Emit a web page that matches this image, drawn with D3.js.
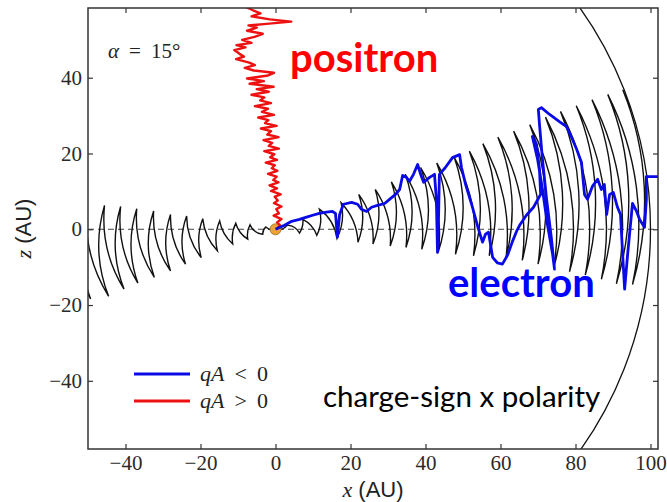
<!DOCTYPE html>
<html>
<head>
<meta charset="utf-8">
<script src="https://cdnjs.cloudflare.com/ajax/libs/d3/7.8.5/d3.min.js"></script>
<style>
  body { margin: 0; background: #fff; }
  svg { display: block; }
  .tick text { font-family: "Liberation Serif", serif; font-size: 21px; fill: #2a2a2a; }
  .tick line { stroke: #333; stroke-width: 1.2; }
</style>
</head>
<body>
<div id="chart"></div>
<script>
// axis ticks (AU)
let xTicks = [-40, -20, 0, 20, 40, 60, 80, 100];
let zTicks = [-40, -20, 0, 20, 40];

// wavy current sheet: fold tips, left edge -> sun -> right
let sheetX = [-54.5, -49.3, -50.2, -44.5, -45.6, -40.4, -41.3, -36.7, -37.0, -32.3, -32.5, -28.0, -28.0, -24.0,
  -23.7, -19.8, -19.4, -15.5, -14.9, -11.4, -10.6, -7.4, -6.8, -3.4, -2.6, 0,
  3.2, 6.4, 7.3, 11.0, 11.7, 16.4, 17.5, 22.0, 22.2, 26.0, 26.6, 30.6, 30.9, 34.8, 34.6, 39.0, 38.7, 43.4,
  43.0, 48.0, 47.7, 52.8, 51.7, 57.0, 55.3, 61.5, 59.3, 65.8, 63.5, 70.0, 67.8, 74.2, 72.0, 78.4, 76.0, 82.6,
  80.2, 86.9, 84.4, 90.9, 88.6, 95.2, 92.6, 99.4, 96.8, 103.6];
let sheetZ = [7.3, -18.4, 7.0, -17.7, 6.3, -15.8, 6.0, -14.2, 5.4, -12.7, 4.8, -11.0, 3.9, -9.2,
  3.5, -7.5, 2.8, -5.7, 2.2, -3.9, 1.6, -2.6, 1.2, -1.3, 0.6, 0,
  1.1, -1.0, 2.6, -1.6, 5.3, -2.4, 7.0, -3.4, 9.2, -3.9, 10.5, -4.4, 12.5, -4.8, 14.5, -5.3, 16.3, -6.0,
  17.5, -6.6, 18.9, -7.0, 20.6, -7.0, 22.6, -7.3, 24.3, -8.2, 25.9, -9.2, 27.6, -10.1, 29.6, -11.2, 31.1, -12.1,
  32.6, -13.2, 34.2, -14.4, 35.6, -14.6, 36.8, -15.2, 38.2, -16.0];

let shockRadius = 100; // AU

// qA < 0 (electron)
let electronX = [0, 2.4, 4.3, 6.4, 8.3, 9.9, 11.7, 13.6, 15.2, 16.0, 16.5, 17.1, 18.1, 20.3, 21.9, 22.9, 24.3,
  25.6, 27.2, 29.1, 30.4, 32.0, 33.1, 33.9, 34.9, 35.7, 36.8, 37.9, 38.7, 39.5, 41.1, 42.4, 42.9, 43.2, 43.5,
  43.7, 45.3, 47.2, 49.1, 49.6, 50.7, 52.3, 53.9, 55.2, 56.0, 56.8, 57.9, 59.2, 60.5, 61.9, 63.2, 64.3, 65.1,
  66.9, 68.8, 70.7, 70.4, 69.6, 68.5, 69.9, 71.2, 72.5, 73.9, 74.4, 73.6, 72.3, 71.2, 70.4, 70.1, 70.9, 73.1,
  75.7, 77.6, 79.2, 80.3, 81.6, 82.4, 83.2, 84.5, 85.9, 86.9, 87.7, 88.3, 89.1, 90.1, 91.2, 92.0, 92.5, 93.1,
  93.9, 95.2, 96.3, 97.1, 98.4, 98.9, 98.9, 102.4];
let electronZ = [0, 1.05, 2.1, 2.6, 3.2, 3.7, 4.2, 4.5, 4.7, 4.2, -2.1, 3.9, 6.6, 7.1, 6.6, 5.3, 4.7,
  5.8, 6.3, 6.8, 7.9, 9.2, 10.5, 14.2, 13.7, 12.6, 14.5, 17.1, 14.5, 12.4, 13.7, 14.5, 7.9, -6.1, 3.9,
  14.5, 16.3, 18.9, 19.7, 16.3, 11.8, 6.6, 0.8, -3.4, -1.3, -0.8, -7.4, -8.9, -9.2, -6.8, -3.2, -0.5, 1.05,
  3.7, 5.8, 9.2, 15.8, 22.4, 24.5, 18.4, 10.5, 1.3, -6.6, -10.5, -2.6, 7.9, 18.4, 27.6, 31.6, 32.1, 30.3,
  28.4, 27.1, 23.7, 21.1, 17.6, 9.2, 7.9, 11.3, 13.2, 10.5, 11.8, 3.9, 9.2, 9.7, 5.8, 3.9, -5.3, -15.8,
  -6.6, 6.8, 4.7, 2.6, 0.5, 7.9, 13.9, 13.9];

// qA > 0 (positron)
let positronX = [0.3, 1.2, 0.4, 1.6, -0.5, 0.9, 0.2, 1.6, -0.4, 0.6, -0.2, 1.4, -1.2, 0.4, -1.6, 0.8,
  -0.6, 0.3, -2.0, 0.5, -1.0, -0.2, -2.6, 0.4, -1.4, -0.3, -3.0, 0.9, -1.8, -0.9, -3.2, 0.8, -2.2, -1.2,
  -3.9, 0.3, -2.8, -1.9, -4.6, -0.4, -3.6, -2.0, -5.5, -1.2, -4.1, -3.0, -6.4, -1.8, -5.0, -0.5, -6.9,
  -3.1, -7.6, -2.0, -0.4, -5.8, -8.2, -5.5, -7.0, -10.5, -8.4, -9.6, -11.0, -8.0, -10.4, -6.4, -8.9, -5.6,
  -3.4, -7.6, -5.0, -7.2, -2.4, 4.2, -1.5, -6.4, -4.0, -6.0, -7.8, -8.8, -9.4];
let positronZ = [0, 1.1, 1.8, 2.7, 3.6, 4.2, 5.3, 6.0, 6.9, 7.6, 8.6, 9.2, 10.1, 10.8, 11.6, 12.4,
  13.0, 13.9, 14.6, 15.4, 16.1, 16.9, 17.6, 18.3, 19.0, 19.8, 20.6, 21.3, 22.0, 22.8, 23.5, 24.3, 25.0, 25.9,
  26.6, 27.3, 28.0, 28.8, 29.5, 30.2, 31.0, 31.8, 32.5, 33.3, 34.0, 34.8, 35.5, 36.3, 37.0, 37.6, 38.4,
  39.1, 39.8, 40.6, 41.3, 41.9, 42.6, 43.3, 44.0, 44.9, 45.6, 46.3, 47.3, 48.0, 48.6, 49.2, 50.0, 50.8,
  51.6, 52.4, 53.2, 53.8, 54.2, 54.8, 55.4, 56.2, 57.0, 57.8, 58.6, 59.5, 61.0];

let legendLabels = [['q', 'A', '<', '0'], ['q', 'A', '>', '0']];
let legendColors = ['#0a0ae6', '#ee1111'];

let width = 667, height = 502;
let margin = {top: 8, right: 9, bottom: 53, left: 88};

let svg = d3.select('#chart').append('svg')
    .attr('width', width)
    .attr('height', height)
    .style('background', '#fff');

let x = d3.scaleLinear().domain([-50, 102]).range([margin.left, width - margin.right]);
let z = d3.scaleLinear().domain([-58, 58.4]).range([height - margin.bottom, margin.top]);
let plotW = width - margin.left - margin.right;
let plotH = height - margin.top - margin.bottom;

let defs = svg.append('defs');
defs.append('clipPath').attr('id', 'plot-clip')
  .append('rect')
    .attr('x', margin.left).attr('y', margin.top)
    .attr('width', plotW).attr('height', plotH);
defs.append('clipPath').attr('id', 'shock-clip')
  .append('ellipse')
    .attr('cx', x(0)).attr('cy', z(0))
    .attr('rx', x(shockRadius) - x(0))
    .attr('ry', z(0) - z(shockRadius));

let plot = svg.append('g').attr('clip-path', 'url(#plot-clip)');

// z = 0 line
plot.append('line')
    .attr('x1', x(-50)).attr('x2', x(102))
    .attr('y1', z(0)).attr('y2', z(0))
    .attr('stroke', '#444')
    .attr('stroke-width', 1.1)
    .attr('stroke-dasharray', '6,4');

// current sheet: each stroke between fold tips drawn as an arc bowed away from the sun
let ox = x(0), oy = z(0);
let tips = d3.zip(sheetX, sheetZ).map(d => [x(d[0]), z(d[1])]);
let sheetPath = 'M' + tips[0][0] + ',' + tips[0][1];
for (let i = 1; i < tips.length; i++) {
    let [x0, y0] = tips[i - 1];
    let [x1, y1] = tips[i];
    let r0 = Math.hypot(x0 - ox, y0 - oy);
    let r1 = Math.hypot(x1 - ox, y1 - oy);
    let chord = Math.hypot(x1 - x0, y1 - y0);
    let R = Math.max(0.8 * (r0 + r1) / 2, chord);
    let mx = (x0 + x1) / 2, my = (y0 + y1) / 2;
    let sweep = ((ox - mx) * (y0 - y1) + (oy - my) * (x1 - x0)) > 0 ? 1 : 0;
    sheetPath += 'A' + R + ',' + R + ' 0 0 ' + sweep + ' ' + x1 + ',' + y1;
}
plot.append('path')
    .attr('d', sheetPath)
    .attr('clip-path', 'url(#shock-clip)')
    .attr('fill', 'none')
    .attr('stroke', '#111')
    .attr('stroke-width', 1.4);

// termination shock
plot.append('ellipse')
    .attr('cx', ox).attr('cy', oy)
    .attr('rx', x(shockRadius) - x(0))
    .attr('ry', z(0) - z(shockRadius))
    .attr('fill', 'none')
    .attr('stroke', '#111')
    .attr('stroke-width', 1.3);

// sun
plot.append('circle')
    .attr('cx', ox).attr('cy', oy).attr('r', 5.5)
    .attr('fill', '#eba236')
    .attr('stroke', '#9a6a1a')
    .attr('stroke-width', 0.8);

let line = d3.line().x(d => x(d[0])).y(d => z(d[1]));

plot.append('path')
    .datum(d3.zip(positronX, positronZ))
    .attr('d', line)
    .attr('fill', 'none')
    .attr('stroke', legendColors[1])
    .attr('stroke-width', 2.4)
    .attr('stroke-linejoin', 'round');

plot.append('path')
    .datum(d3.zip(electronX, electronZ))
    .attr('d', line)
    .attr('fill', 'none')
    .attr('stroke', legendColors[0])
    .attr('stroke-width', 2.8)
    .attr('stroke-linejoin', 'round');

// axes, ticks inward on all four sides
let fmt = d3.format('d');
svg.append('g')
    .attr('transform', 'translate(0,' + (height - margin.bottom) + ')')
    .call(d3.axisBottom(x).tickValues(xTicks).tickFormat(fmt).tickSizeInner(-5).tickSizeOuter(0).tickPadding(6))
    .call(g => g.select('.domain').remove());
svg.append('g')
    .attr('transform', 'translate(0,' + margin.top + ')')
    .call(d3.axisTop(x).tickValues(xTicks).tickFormat('').tickSizeInner(-5).tickSizeOuter(0))
    .call(g => g.select('.domain').remove());
svg.append('g')
    .attr('transform', 'translate(' + margin.left + ',0)')
    .call(d3.axisLeft(z).tickValues(zTicks).tickFormat(fmt).tickSizeInner(-5).tickSizeOuter(0).tickPadding(6))
    .call(g => g.select('.domain').remove());
svg.append('g')
    .attr('transform', 'translate(' + (width - margin.right) + ',0)')
    .call(d3.axisRight(z).tickValues(zTicks).tickFormat('').tickSizeInner(-5).tickSizeOuter(0))
    .call(g => g.select('.domain').remove());

svg.append('rect')
    .attr('x', margin.left).attr('y', margin.top)
    .attr('width', plotW).attr('height', plotH)
    .attr('fill', 'none')
    .attr('stroke', '#333')
    .attr('stroke-width', 1.5);

// axis labels
let xl = svg.append('text')
    .attr('x', (x.range()[0] + x.range()[1]) / 2)
    .attr('y', 497)
    .attr('text-anchor', 'middle')
    .attr('fill', '#222');
xl.append('tspan').style('font-family', '"Liberation Serif", serif').style('font-style', 'italic').style('font-size', '22px').text('x');
xl.append('tspan').style('font-family', '"Liberation Sans", sans-serif').style('font-size', '22px').text(' (AU)');

let zl = svg.append('text')
    .attr('transform', 'translate(31,' + ((z.range()[0] + z.range()[1]) / 2) + ') rotate(-90)')
    .attr('text-anchor', 'middle')
    .attr('fill', '#222');
zl.append('tspan').style('font-family', '"Liberation Serif", serif').style('font-style', 'italic').style('font-size', '22px').text('z');
zl.append('tspan').style('font-family', '"Liberation Sans", sans-serif').style('font-size', '22px').text(' (AU)');

// tilt angle
let al = svg.append('text')
    .attr('x', 108).attr('y', 58)
    .style('font-family', '"Liberation Serif", serif')
    .style('font-size', '21px')
    .attr('fill', '#222');
al.append('tspan').style('font-style', 'italic').text('α');
al.append('tspan').attr('dx', 10).text('=');
al.append('tspan').attr('dx', 10).text('15°');

// legend
let leg = svg.append('g');
legendLabels.forEach(function(lab, i) {
    let ly = 374 + i * 27;
    leg.append('line')
        .attr('x1', 134).attr('x2', 190)
        .attr('y1', ly).attr('y2', ly)
        .attr('stroke', legendColors[i])
        .attr('stroke-width', 3);
    let t = leg.append('text')
        .attr('x', 200).attr('y', ly + 7)
        .style('font-family', '"Liberation Serif", serif')
        .style('font-size', '22px')
        .attr('fill', '#222');
    t.append('tspan').style('font-style', 'italic').text(lab[0]);
    t.append('tspan').style('font-style', 'italic').text(lab[1]);
    t.append('tspan').attr('dx', 10).text(lab[2]);
    t.append('tspan').attr('dx', 10).text(lab[3]);
});

// annotations
svg.append('text')
    .attr('x', 290).attr('y', 72)
    .style('font-family', 'Lato, sans-serif')
    .style('font-weight', 700)
    .style('font-size', '40px')
    .attr('fill', '#ff0000')
    .text('positron');
svg.append('text')
    .attr('x', 448).attr('y', 297)
    .style('font-family', 'Lato, sans-serif')
    .style('font-weight', 700)
    .style('font-size', '40px')
    .attr('fill', '#0000ff')
    .text('electron');
svg.append('text')
    .attr('x', 323).attr('y', 407)
    .style('font-family', 'Lato, sans-serif')
    .style('font-size', '29.5px')
    .attr('fill', '#000')
    .text('charge-sign x polarity');
</script>
</body>
</html>
